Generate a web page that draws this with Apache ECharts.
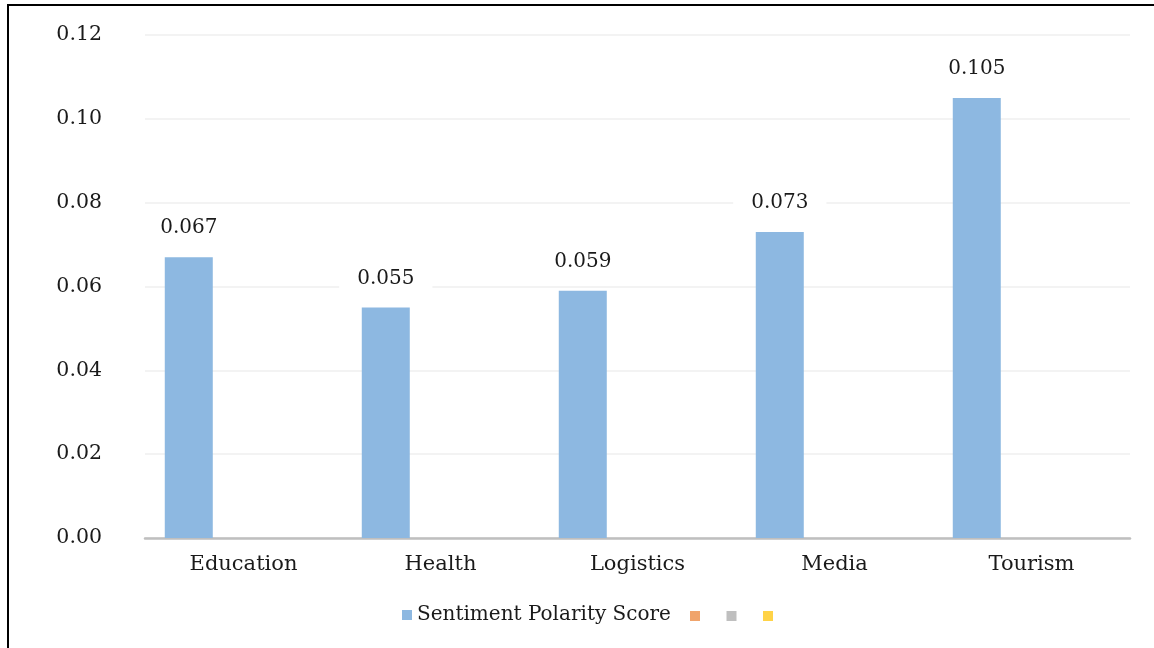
<!DOCTYPE html>
<html>
<head>
<meta charset="utf-8">
<script src="https://cdn.jsdelivr.net/npm/echarts@6/dist/echarts.min.js"></script>
<style>
  html, body { margin: 0; padding: 0; background: #fff; }
  #chart { width: 1154px; height: 648px; }
</style>
</head>
<body>
<div id="chart"></div>
<script>
// categories and scores
const categories = ["Education", "Health", "Logistics", "Media", "Tourism"];
const sentimentScore = [0.067, 0.055, 0.059, 0.073, 0.105];
// empty series kept from the source chart (legend shows only their swatches)
const emptySeries = ["_s2", "_s3", "_s4"];
const emptyColors = ["#F0A46C", "#BFBFBF", "#FFD347"];

const font = "DejaVu Serif";

const myChart = echarts.init(document.getElementById("chart"));

const series = [
  {
    name: "Sentiment Polarity Score",
    type: "bar",
    data: sentimentScore,
    barWidth: 48,
    barGap: "-24%",
    itemStyle: { color: "#8DB8E1" },
    label: {
      show: true,
      position: "top",
      distance: 10,
      color: "#1a1a1a",
      fontFamily: font,
      fontSize: 20,
      backgroundColor: "#fff",
      padding: [9, 18],
      formatter: (p) => p.value.toFixed(3),
    },
  },
];
emptySeries.forEach((n, i) => {
  series.push({
    name: n,
    type: "bar",
    data: [],
    barWidth: 48,
    barGap: "-24%",
    itemStyle: { color: emptyColors[i] },
  });
});

const legendBase = {
  itemWidth: 10,
  itemHeight: 10,
  icon: "rect",
  textStyle: { fontFamily: font, fontSize: 20, color: "#1a1a1a" },
  formatter: (name) => (name.startsWith("_") ? "" : name),
};

const option = {
  animation: false,
  grid: { left: 145, right: 24, top: 35, bottom: 110 },
  legend: [
    Object.assign({}, legendBase, { left: 397, top: 600, data: ["Sentiment Polarity Score"] }),
    Object.assign({}, legendBase, { left: 685, top: 606, itemGap: 26.5, data: emptySeries }),
  ],
  xAxis: {
    type: "category",
    data: categories,
    axisLine: { lineStyle: { color: "#BFBFBF", width: 2.5 } },
    axisTick: { show: false },
    axisLabel: { fontFamily: font, fontSize: 21, color: "#1a1a1a", margin: 16 },
  },
  yAxis: {
    type: "value",
    min: 0,
    max: 0.12,
    interval: 0.02,
    axisLine: { show: false },
    axisTick: { show: false },
    splitLine: { lineStyle: { color: "#EFEFEF", width: 1.5 } },
    axisLabel: {
      fontFamily: font,
      fontSize: 20.5,
      color: "#1a1a1a",
      margin: 43,
      padding: [0, 0, 4, 0],
      formatter: (v) => v.toFixed(2),
    },
  },
  graphic: [
    { type: "line", shape: { x1: 8, y1: 4, x2: 8, y2: 648 }, style: { stroke: "#000", lineWidth: 2 } },
    { type: "line", shape: { x1: 7, y1: 5, x2: 1154, y2: 5 }, style: { stroke: "#000", lineWidth: 2 } },
  ],
  series: series,
};

option && myChart.setOption(option);
</script>
</body>
</html>
